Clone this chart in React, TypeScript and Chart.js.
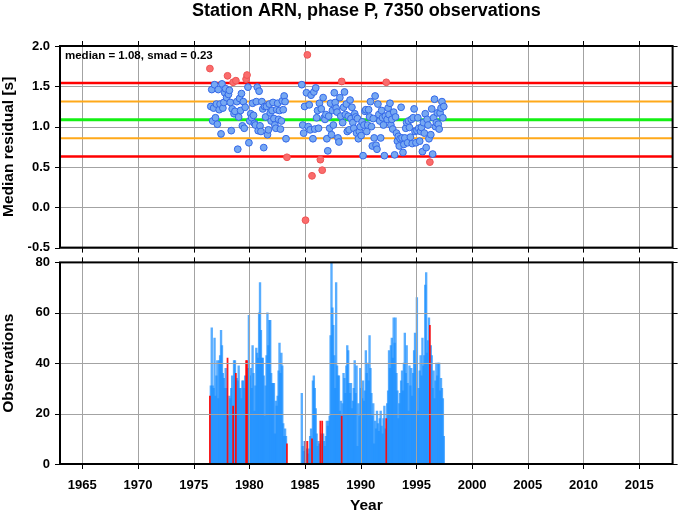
import React, { useEffect, useRef } from "react";
import { Chart, registerables } from "chart.js";

Chart.register(...registerables);

const FONT = "'Liberation Sans', Arial, Helvetica, sans-serif";

const TITLE = "Station ARN, phase P, 7350 observations";
const STATS_TEXT = "median = 1.08, smad = 0.23";
const Y1_TITLE = "Median residual [s]";
const Y2_TITLE = "Observations";
const X_TITLE = "Year";

const MEDIAN = 1.085;
const SMAD = 0.228;

const X_MIN = 1963;
const X_MAX = 2018;
const YEAR_TICKS = [1965, 1970, 1975, 1980, 1985, 1990, 1995, 2000, 2005, 2010, 2015];
const RESID_MIN = -0.5;
const RESID_MAX = 2.0;
const RESID_TICKS = [-0.5, 0.0, 0.5, 1.0, 1.5, 2.0];
const COUNT_MIN = 0;
const COUNT_MAX = 80;
const COUNT_TICKS = [0, 20, 40, 60, 80];

// monthly bins
const months = [
  "1976-06", "1976-07", "1976-08", "1976-09", "1976-10", "1976-11", "1976-12",
  "1977-01", "1977-02", "1977-03", "1977-04", "1977-05", "1977-06", "1977-07", "1977-08", "1977-09", "1977-10", "1977-11", "1977-12",
  "1978-01", "1978-02", "1978-03", "1978-04", "1978-05", "1978-06", "1978-07", "1978-08", "1978-09", "1978-10", "1978-11", "1978-12",
  "1979-01", "1979-02", "1979-03", "1979-04", "1979-05", "1979-06", "1979-07", "1979-08", "1979-09", "1979-10", "1979-11", "1979-12",
  "1980-01", "1980-02", "1980-03", "1980-04", "1980-05", "1980-06", "1980-07", "1980-08", "1980-09", "1980-10", "1980-11", "1980-12",
  "1981-01", "1981-02", "1981-03", "1981-04", "1981-05", "1981-06", "1981-07", "1981-08", "1981-09", "1981-10", "1981-11", "1981-12",
  "1982-01", "1982-02", "1982-03", "1982-04", "1982-05", "1982-06", "1982-07", "1982-08", "1982-09", "1982-10", "1982-11", "1982-12",
  "1983-01", "1983-02", "1983-03", "1983-04", "1983-05",
  "1984-09", "1984-10", "1984-11", "1984-12",
  "1985-01", "1985-02", "1985-03", "1985-04", "1985-05", "1985-06", "1985-07", "1985-08", "1985-09", "1985-10", "1985-11", "1985-12",
  "1986-01", "1986-02", "1986-03", "1986-04", "1986-05", "1986-06", "1986-07", "1986-08", "1986-09", "1986-10", "1986-11", "1986-12",
  "1987-01", "1987-02", "1987-03", "1987-04", "1987-05", "1987-06", "1987-07", "1987-08", "1987-09", "1987-10", "1987-11", "1987-12",
  "1988-01", "1988-02", "1988-03", "1988-04", "1988-05", "1988-06", "1988-07", "1988-08", "1988-09", "1988-10", "1988-11", "1988-12",
  "1989-01", "1989-02", "1989-03", "1989-04", "1989-05", "1989-06", "1989-07", "1989-08", "1989-09", "1989-10", "1989-11", "1989-12",
  "1990-01", "1990-02", "1990-03", "1990-04", "1990-05", "1990-06", "1990-07", "1990-08", "1990-09", "1990-10", "1990-11", "1990-12",
  "1991-01", "1991-02", "1991-03", "1991-04", "1991-05", "1991-06", "1991-07", "1991-08", "1991-09", "1991-10", "1991-11", "1991-12",
  "1992-01", "1992-02", "1992-03", "1992-04", "1992-05", "1992-06", "1992-07", "1992-08", "1992-09", "1992-10", "1992-11", "1992-12",
  "1993-01", "1993-02", "1993-03", "1993-04", "1993-05", "1993-06", "1993-07", "1993-08", "1993-09", "1993-10", "1993-11", "1993-12",
  "1994-01", "1994-02", "1994-03", "1994-04", "1994-05", "1994-06", "1994-07", "1994-08", "1994-09", "1994-10", "1994-11", "1994-12",
  "1995-01", "1995-02", "1995-03", "1995-04", "1995-05", "1995-06", "1995-07", "1995-08", "1995-09", "1995-10", "1995-11", "1995-12",
  "1996-01", "1996-02", "1996-03", "1996-04", "1996-05", "1996-06", "1996-07", "1996-08", "1996-09", "1996-10", "1996-11", "1996-12",
  "1997-01", "1997-02", "1997-03", "1997-04", "1997-05", "1997-06",
];

// monthly median residual [s]
const medians = [
  1.72, 1.25, 1.46, 1.07, 1.23, 1.52, 1.11,
  1.28, 1.03, 1.46, 1.21, 1.28, 0.91, 1.53, 1.23, 1.30, 1.42, 1.47, 1.36,
  1.63, 1.40, 1.45, 1.30, 0.95, 1.22, 1.55, 1.16, 1.19, 1.57, 1.31, 0.72,
  1.12, 1.35, 1.20, 1.41, 1.01, 1.31, 0.98, 1.24, 1.59, 1.64, 1.49, 0.80,
  1.07, 1.16, 1.11, 1.29, 1.14, 1.04, 1.02, 1.31, 1.49, 0.95, 1.44, 1.01,
  0.94, 1.31, 1.22, 0.74, 1.25, 1.12, 1.25, 0.90, 0.96, 1.28, 1.17, 1.07,
  1.20, 1.30, 1.10, 1.02, 0.98, 1.21, 1.29, 1.09, 1.20, 0.97, 1.07, 1.32,
  1.21, 1.38, 1.31, 0.85, 0.62,
  1.52, 1.02, 0.92, 1.25,
  -0.16, 1.42, 1.89, 1.00, 1.27, 0.96, 1.39, 0.39, 0.85, 1.43, 0.97, 1.48,
  1.11, 1.20, 0.98, 1.29, 0.59, 1.22, 0.46, 1.36, 1.11, 1.09, 1.15, 0.85,
  0.70, 1.13, 0.98, 1.29, 0.90, 1.20, 1.02, 1.42, 1.30, 1.23, 1.18, 0.86,
  0.81, 1.36, 1.13, 1.56, 1.05, 1.24, 1.43, 1.15, 1.28, 0.94, 1.13, 0.96,
  1.33, 1.10, 1.24, 1.05, 0.98, 1.16, 1.12, 0.92, 1.10, 0.85, 0.94, 1.00,
  0.89, 1.06, 0.64, 1.02, 1.19, 1.21, 0.94, 1.02, 1.21, 1.12, 1.31, 1.00,
  0.76, 1.10, 0.86, 1.38, 0.77, 0.72, 1.28, 1.15, 1.07, 0.86, 1.20, 1.11,
  1.02, 0.64, 1.13, 1.55, 1.09, 1.23, 1.15, 1.29, 1.02, 1.09, 0.97, 1.18,
  0.65, 1.12, 0.92, 0.82, 0.88, 0.76, 0.85, 1.24, 0.86, 0.68, 0.78, 0.86,
  0.98, 1.05, 0.80, 1.07, 0.99, 0.87, 1.09, 0.79, 1.11, 1.22, 0.94, 0.80,
  0.95, 1.11, 0.98, 0.82, 0.94, 0.99, 0.69, 1.05, 0.92, 1.16, 0.74, 1.09,
  1.02, 0.85, 0.56, 0.90, 1.22, 0.66, 1.11, 1.34, 1.00, 1.05, 1.17, 1.03,
  0.97, 1.17, 1.23, 1.31, 1.11, 1.25,
];

// monthly number of observations
const counts = [
  27, 31, 54, 31, 30, 50, 27,
  35, 41, 26, 41, 43, 53, 47, 36, 34, 30, 38, 30,
  42, 19, 27, 26, 30, 35, 23, 41, 41, 36, 34, 33,
  39, 30, 30, 26, 33, 33, 30, 35, 41, 41, 38, 59,
  35, 38, 30, 47, 36, 21, 31, 46, 44, 42, 60, 72,
  53, 42, 42, 35, 19, 31, 43, 60, 47, 57, 57, 36,
  32, 32, 32, 12, 25, 23, 27, 37, 48, 36, 44, 39,
  16, 11, 14, 11, 8,
  28, 7, 5, 9,
  9, 6, 9, 4, 6, 11, 14, 10, 33, 35, 30, 22,
  12, 7, 9, 8, 17, 12, 17, 12, 9, 7, 11, 17,
  15, 17, 19, 51, 80, 62, 55, 43, 30, 72, 39, 35,
  35, 21, 25, 19, 24, 36, 34, 28, 39, 47, 45, 32,
  28, 32, 22, 25, 30, 41, 28, 39, 7, 24, 19, 38,
  30, 26, 33, 25, 29, 45, 36, 40, 33, 51, 38, 28,
  19, 24, 8, 17, 14, 21, 16, 13, 18, 21, 15, 12,
  18, 23, 14, 18, 24, 29, 45, 38, 47, 50, 42, 58,
  48, 58, 36, 29, 18, 24, 28, 33, 37, 29, 40, 52,
  36, 47, 32, 21, 39, 31, 38, 27, 36, 45, 52, 40,
  66, 21, 30, 37, 43, 35, 50, 39, 43, 71, 76, 44,
  49, 58, 55, 47, 43, 30, 37, 26, 33, 40, 35, 40,
  40, 29, 34, 30, 26, 11,
];

const GRID_COLOR = "#a3a3a3";
const BLUE_FILL = "rgb(118,168,242)";
const BLUE_EDGE = "rgb(52,104,232)";
const RED_FILL = "rgb(250,108,108)";
const RED_EDGE = "rgb(238,84,84)";
const BAR_BLUE = "rgba(30,144,255,0.74)";
const BAR_RED = "rgba(255,0,0,0.9)";

const toDecimalYear = (s: string) => {
  const [y, m] = s.split("-").map(Number);
  return y + (m - 0.5) / 12;
};
const isOutlier = (v: number) => Math.abs(v - MEDIAN) > 2 * SMAD;

const W = 678;
const H1 = 256;
const H2 = 255;
const PLOT_LEFT = 60;
const PLOT_RIGHT = 672.6;

type PanelOpts = {
  yTicks: number[];
  yFmt: (v: number) => string;
  xLabels: boolean;
  gridOnTop: boolean;
  extra: (ctx: CanvasRenderingContext2D, a: any) => void;
};

function panelPlugin(o: PanelOpts) {
  const drawGrid = (chart: any) => {
    const { ctx, chartArea: a, scales } = chart;
    ctx.save();
    ctx.strokeStyle = GRID_COLOR;
    ctx.lineWidth = 1;
    ctx.beginPath();
    for (const v of YEAR_TICKS) {
      const x = Math.round(scales.x.getPixelForValue(v)) + 0.5;
      ctx.moveTo(x, a.top);
      ctx.lineTo(x, a.bottom);
    }
    for (const v of o.yTicks) {
      const y = Math.round(scales.y.getPixelForValue(v)) + 0.5;
      ctx.moveTo(a.left, y);
      ctx.lineTo(a.right, y);
    }
    ctx.stroke();
    ctx.restore();
  };
  return {
    id: "panelDecor",
    beforeDatasetsDraw(chart: any) {
      if (!o.gridOnTop) drawGrid(chart);
    },
    afterDatasetsDraw(chart: any) {
      if (o.gridOnTop) drawGrid(chart);
    },
    afterDraw(chart: any) {
      const { ctx, chartArea: a, scales } = chart;
      ctx.save();
      // tick marks on all four sides
      ctx.strokeStyle = "#000";
      ctx.lineWidth = 1;
      ctx.beginPath();
      for (const v of YEAR_TICKS) {
        const x = Math.round(scales.x.getPixelForValue(v)) + 0.5;
        ctx.moveTo(x, a.top - 5);
        ctx.lineTo(x, a.top);
        ctx.moveTo(x, a.bottom);
        ctx.lineTo(x, a.bottom + 5);
      }
      for (const v of o.yTicks) {
        const y = Math.round(scales.y.getPixelForValue(v)) + 0.5;
        ctx.moveTo(a.left - 5, y);
        ctx.lineTo(a.left, y);
        ctx.moveTo(a.right, y);
        ctx.lineTo(a.right + 5, y);
      }
      ctx.stroke();
      // frame
      ctx.lineWidth = 2;
      ctx.strokeRect(a.left, a.top, a.right - a.left, a.bottom - a.top);
      // tick labels
      ctx.fillStyle = "#000";
      ctx.font = `bold 13px ${FONT}`;
      ctx.textAlign = "right";
      ctx.textBaseline = "middle";
      for (const v of o.yTicks) {
        ctx.fillText(o.yFmt(v), a.left - 10, scales.y.getPixelForValue(v));
      }
      if (o.xLabels) {
        ctx.textAlign = "center";
        for (const v of YEAR_TICKS) {
          ctx.fillText(String(v), scales.x.getPixelForValue(v), a.bottom + 21);
        }
      }
      o.extra(ctx, a);
      ctx.restore();
    },
  };
}

const drawRotated = (ctx: CanvasRenderingContext2D, text: string, x: number, y: number) => {
  ctx.save();
  ctx.translate(x, y);
  ctx.rotate(-Math.PI / 2);
  ctx.textAlign = "center";
  ctx.textBaseline = "alphabetic";
  ctx.fillText(text, 0, 0);
  ctx.restore();
};

const hLine = (y: number, color: string, width: number) => ({
  type: "line" as const,
  data: [
    { x: X_MIN, y },
    { x: X_MAX, y },
  ],
  borderColor: color,
  borderWidth: width,
  pointRadius: 0,
  showLine: true,
  fill: false,
});

function topConfig(): any {
  const xs = months.map(toDecimalYear);
  const pts = xs.map((x, i) => ({ x, y: medians[i] }));
  const out = medians.map(isOutlier);
  return {
    type: "scatter",
    data: {
      datasets: [
        {
          data: pts,
          pointRadius: 3.4,
          pointBorderWidth: 1,
          pointBackgroundColor: out.map((o) => (o ? RED_FILL : BLUE_FILL)),
          pointBorderColor: out.map((o) => (o ? RED_EDGE : BLUE_EDGE)),
        },
        hLine(MEDIAN + 2 * SMAD, "#ff0000", 2.5),
        hLine(MEDIAN + SMAD, "#ffa91a", 2),
        hLine(MEDIAN, "#14f014", 3),
        hLine(MEDIAN - SMAD, "#ffa91a", 2),
        hLine(MEDIAN - 2 * SMAD, "#ff0000", 2.5),
      ],
    },
    options: {
      animation: false,
      responsive: false,
      maintainAspectRatio: false,
      layout: { padding: { left: 0, right: W - PLOT_RIGHT, top: 46, bottom: 0 } },
      plugins: { legend: { display: false }, tooltip: { enabled: false }, title: { display: false } },
      scales: {
        x: {
          type: "linear",
          min: X_MIN,
          max: X_MAX,
          ticks: { display: false },
          grid: { display: false },
          border: { display: false },
          afterFit: (s: any) => {
            s.height = H1 - 247.6;
          },
        },
        y: {
          type: "linear",
          min: RESID_MIN,
          max: RESID_MAX,
          ticks: { display: false },
          grid: { display: false },
          border: { display: false },
          afterFit: (s: any) => {
            s.width = PLOT_LEFT;
          },
        },
      },
    },
    plugins: [
      panelPlugin({
        yTicks: RESID_TICKS,
        yFmt: (v) => v.toFixed(1),
        xLabels: false,
        gridOnTop: false,
        extra: (ctx, a) => {
          ctx.textBaseline = "alphabetic";
          ctx.font = `bold 18px ${FONT}`;
          ctx.textAlign = "center";
          ctx.fillText(TITLE, (a.left + a.right) / 2, 16);
          ctx.font = `bold 11.5px ${FONT}`;
          ctx.textAlign = "left";
          ctx.fillText(STATS_TEXT, 65, 58.5);
          ctx.font = `bold 15.5px ${FONT}`;
          drawRotated(ctx, Y1_TITLE, 13, (a.top + a.bottom) / 2);
        },
      }),
    ],
  };
}

function bottomConfig(): any {
  const xs = months.map(toDecimalYear);
  const out = medians.map(isOutlier);
  const blue = xs.map((x, i) => ({ x, y: counts[i] })).filter((_, i) => !out[i]);
  const red = xs.map((x, i) => ({ x, y: counts[i] })).filter((_, i) => out[i]);
  return {
    type: "bar",
    data: {
      datasets: [
        { data: red, backgroundColor: BAR_RED, barThickness: 1.1, grouped: false },
        { data: blue, backgroundColor: BAR_BLUE, barThickness: 1.7, grouped: false },
      ],
    },
    options: {
      animation: false,
      responsive: false,
      maintainAspectRatio: false,
      layout: { padding: { left: 0, right: W - PLOT_RIGHT, top: 6.4, bottom: 0 } },
      plugins: { legend: { display: false }, tooltip: { enabled: false }, title: { display: false } },
      scales: {
        x: {
          type: "linear",
          min: X_MIN,
          max: X_MAX,
          offset: false,
          ticks: { display: false },
          grid: { display: false, offset: false },
          border: { display: false },
          afterFit: (s: any) => {
            s.height = 47;
          },
        },
        y: {
          type: "linear",
          min: COUNT_MIN,
          max: COUNT_MAX,
          ticks: { display: false },
          grid: { display: false },
          border: { display: false },
          afterFit: (s: any) => {
            s.width = PLOT_LEFT;
          },
        },
      },
    },
    plugins: [
      panelPlugin({
        yTicks: COUNT_TICKS,
        yFmt: (v) => String(v),
        xLabels: true,
        gridOnTop: true,
        extra: (ctx, a) => {
          ctx.font = `bold 15.5px ${FONT}`;
          ctx.textBaseline = "alphabetic";
          ctx.textAlign = "center";
          ctx.fillText(X_TITLE, (a.left + a.right) / 2, 254);
          drawRotated(ctx, Y2_TITLE, 13, (a.top + a.bottom) / 2);
        },
      }),
    ],
  };
}

export default function App() {
  const topRef = useRef<HTMLCanvasElement>(null);
  const botRef = useRef<HTMLCanvasElement>(null);

  useEffect(() => {
    const prev = document.body.style.margin;
    document.body.style.margin = "0";
    const c1 = new Chart(topRef.current as HTMLCanvasElement, topConfig());
    const c2 = new Chart(botRef.current as HTMLCanvasElement, bottomConfig());
    return () => {
      c1.destroy();
      c2.destroy();
      document.body.style.margin = prev;
    };
  }, []);

  return (
    <div style={{ position: "relative", width: W, height: H1 + H2, background: "#fff" }}>
      <canvas
        ref={topRef}
        width={W}
        height={H1}
        style={{ position: "absolute", left: 0, top: 0, width: W, height: H1 }}
      />
      <canvas
        ref={botRef}
        width={W}
        height={H2}
        style={{ position: "absolute", left: 0, top: H1, width: W, height: H2 }}
      />
    </div>
  );
}
